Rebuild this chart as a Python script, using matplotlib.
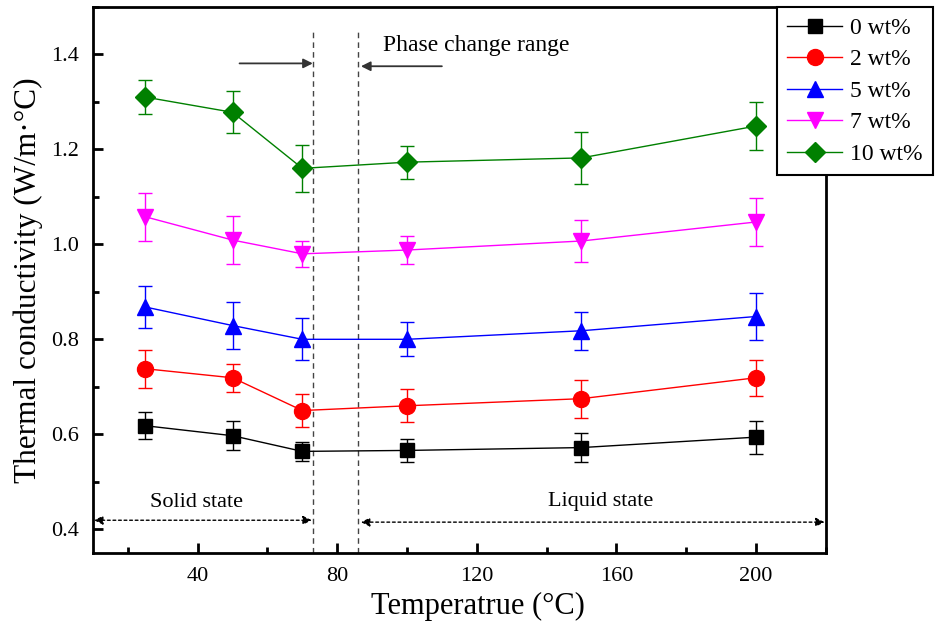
import numpy as np
import matplotlib
matplotlib.use("Agg")
import matplotlib.pyplot as plt
from matplotlib.ticker import MultipleLocator
from matplotlib.lines import Line2D

plt.rcParams['font.family'] = ['Liberation Serif', 'DejaVu Serif']

temps = [25, 50, 70, 100, 150, 200]
labels = ['0 wt%', '2 wt%', '5 wt%', '7 wt%', '10 wt%']

k0 = [0.618, 0.597, 0.564, 0.566, 0.572, 0.594]
k2 = [0.738, 0.719, 0.650, 0.660, 0.675, 0.719]
k5 = [0.868, 0.829, 0.800, 0.800, 0.818, 0.848]
k7 = [1.058, 1.009, 0.980, 0.988, 1.007, 1.047]
k10 = [1.310, 1.278, 1.160, 1.173, 1.182, 1.249]

e0 = [0.028, 0.030, 0.020, 0.024, 0.030, 0.035]
e2 = [0.040, 0.030, 0.035, 0.035, 0.040, 0.038]
e5 = [0.045, 0.050, 0.044, 0.036, 0.040, 0.050]
e7 = [0.050, 0.050, 0.028, 0.030, 0.045, 0.050]
e10 = [0.035, 0.044, 0.050, 0.035, 0.055, 0.050]

series = [k0, k2, k5, k7, k10]
errors = [e0, e2, e5, e7, e10]
colors = ['black', 'red', 'blue', 'magenta', 'green']
markers = ['s', 'o', '^', 'v', 'D']
msizes = [10, 11.5, 12, 12, 10]

# phase change boundaries
t_solid, t_liquid = 73, 86

fig = plt.figure(figsize=(9.35, 6.26), dpi=100)
ax = fig.add_axes([0.0995, 0.1166, 0.7835, 0.8724])

handles = []
for k, e, c, m, ms, lab in zip(series, errors, colors, markers, msizes, labels):
    ax.errorbar(temps, k, yerr=e, color=c, marker=m, markersize=ms, lw=1.0,
                elinewidth=1.0, capsize=5, capthick=1.0)
    handles.append(Line2D([], [], color=c, marker=m, markersize=ms, lw=1.0, label=lab))

ax.set_xlim(10, 220)
ax.set_ylim(0.35, 1.5)
ax.xaxis.set_minor_locator(MultipleLocator(20))
ax.yaxis.set_major_locator(MultipleLocator(0.2))
ax.yaxis.set_minor_locator(MultipleLocator(0.1))
ax.set_xticks([40, 80, 120, 160, 200])
ax.tick_params(which='major', direction='in', length=7, width=2, labelsize=16, pad=10)
ax.tick_params(which='minor', direction='in', length=4, width=2)
for s in ax.spines.values():
    s.set_linewidth(2)

ax.set_xlabel('Temperatrue (°C)', fontsize=22, va='center')
ax.xaxis.set_label_coords(0.525, -0.097)
ax.set_ylabel('Thermal conductivity (W/m·°C)', fontsize=22.5, labelpad=6)

# phase change range lines
for xv in (t_solid, t_liquid):
    ax.plot([xv, xv], [0.35, 1.45], ls=(0, (4, 3)), color='#444444', lw=1.0)

ax.annotate('', xy=(t_solid, 1.381), xytext=(52, 1.381),
            arrowprops=dict(arrowstyle='-|>', color='#333333', lw=1.3,
                            mutation_scale=14, shrinkA=0, shrinkB=0))
ax.annotate('', xy=(t_liquid + 0.8, 1.375), xytext=(110, 1.375),
            arrowprops=dict(arrowstyle='-|>', color='#333333', lw=1.3,
                            mutation_scale=14, shrinkA=0, shrinkB=0))
ax.text(93, 1.419, 'Phase change range', fontsize=17, va='center', ha='left')

ax.annotate('', xy=(10.3, 0.419), xytext=(t_solid - 0.3, 0.419),
            arrowprops=dict(arrowstyle='<|-|>', color='black', lw=1.0, ls=(0, (2, 2)),
                            mutation_scale=13, shrinkA=0, shrinkB=0))
ax.annotate('', xy=(t_liquid + 0.8, 0.415), xytext=(219.7, 0.415),
            arrowprops=dict(arrowstyle='<|-|>', color='black', lw=1.0, ls=(0, (2, 2)),
                            mutation_scale=13, shrinkA=0, shrinkB=0))
ax.text(39.7, 0.456, 'Solid state', fontsize=16, ha='center', va='center')
ax.text(155.4, 0.458, 'Liquid state', fontsize=16, ha='center', va='center')

leg = fig.legend(handles=handles, loc='upper right', bbox_to_anchor=(0.998, 0.989),
                 borderaxespad=0, fontsize=17, frameon=True, fancybox=False,
                 framealpha=1, handlelength=2.3, handletextpad=0.35,
                 labelspacing=0.42, borderpad=0.45)
leg.get_frame().set_edgecolor('black')
leg.get_frame().set_linewidth(1.5)

fig.savefig('out.png', dpi=100)
